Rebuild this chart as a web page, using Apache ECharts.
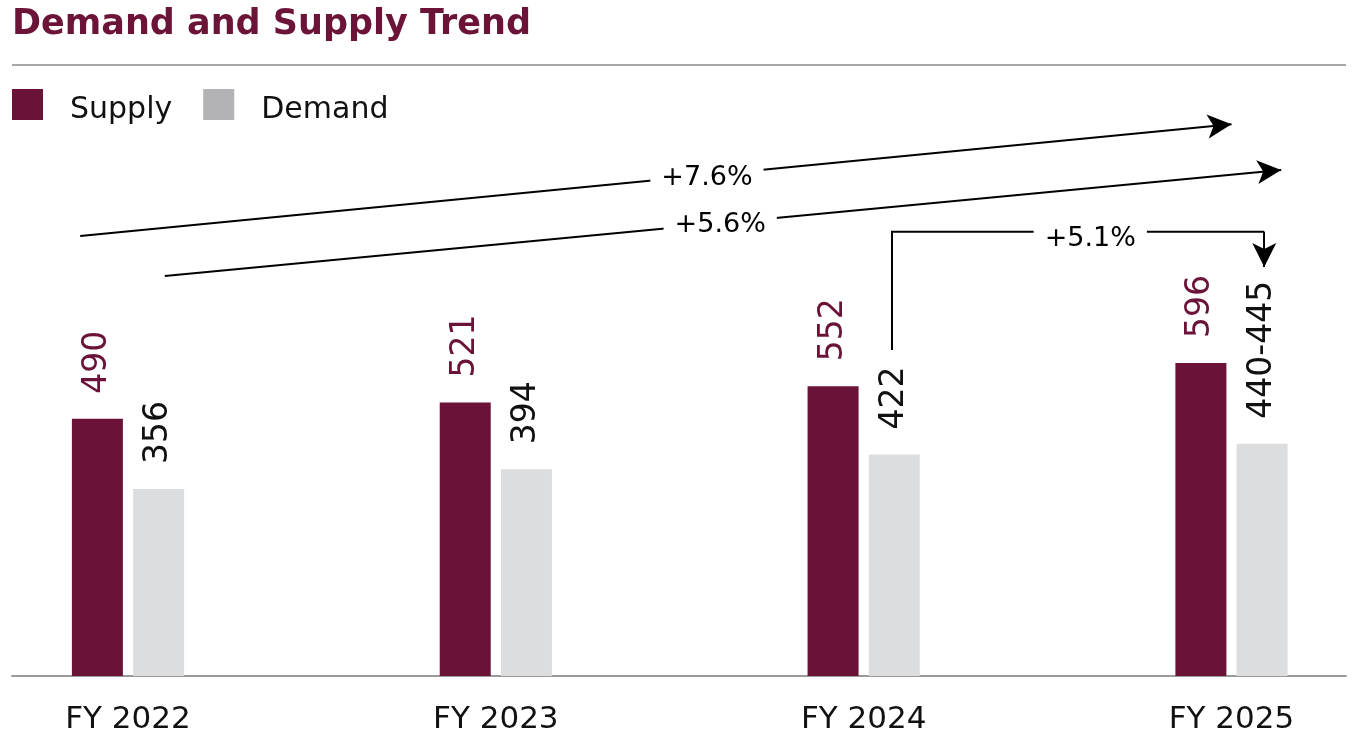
<!DOCTYPE html>
<html>
<head>
<meta charset="utf-8">
<script src="https://cdn.jsdelivr.net/npm/echarts@6/dist/echarts.min.js"></script>
<style>
html,body{margin:0;padding:0;background:#fff;}
#chart{width:1356px;height:736px;}
</style>
</head>
<body>
<div id="chart"></div>
<script>
// ---- data ----
const categories = ['FY 2022', 'FY 2023', 'FY 2024', 'FY 2025'];
const supply = [490, 521, 552, 596];
const demand = [356, 394, 422, 442.5];
const supplyLabels = ['490', '521', '552', '596'];
const demandLabels = ['356', '394', '422', '440-445'];
const growthLabels = ['+7.6%', '+5.6%', '+5.1%'];
// annotation paths in axis coordinates: [category position, value]
const arrowSupply = [[-0.13, 838], [3.0, 1051]];
const arrowDemand = [[0.10, 762], [3.135, 964]];
const elbowPath = [[2.077, 621], [2.077, 846], [3.089, 846]];
const elbowArrow = [[3.089, 846], [3.089, 779]];
const growthLabelPos = [[1.574, 949], [1.610, 860], [2.616, 833]];

const MAROON = '#6a1237';
const BAR_GREY = '#dcdddf';
const LEGEND_GREY = '#b3b3b5';
const FONT = 'DejaVu Sans';

// layout
const W = 1356;
const catLeft = 128, catRight = 124.5;   // category grid (ticks at bar-pair centres)
const fullLeft = 12, fullRight = 10;     // full-width grid (baseline + annotations)
const band = (W - catLeft - catRight) / (categories.length - 1);
const fullMin = -(catLeft - fullLeft) / band;
const fullMax = (categories.length - 1) + (catRight - fullRight) / band;

const chart = echarts.init(document.getElementById('chart'));
const option = {
  animation: false,
  backgroundColor: '#fff',
  title: {
    text: 'Demand and Supply Trend',
    left: 12, top: 7, padding: 0,
    textStyle: { fontFamily: FONT, fontSize: 35, fontWeight: 'bold', color: '#6b1438' }
  },
  legend: {
    left: 12, top: 89, padding: 0,
    icon: 'rect', itemWidth: 31, itemHeight: 31, itemGap: 31,
    selectedMode: false,
    formatter: name => '{t|' + name + '}',
    textStyle: {
      fontFamily: FONT, fontSize: 30, color: '#111',
      rich: { t: { fontFamily: FONT, fontSize: 30, color: '#111', padding: [12, 0, 0, 22] } }
    },
    data: [
      { name: 'Supply', itemStyle: { color: MAROON } },
      { name: 'Demand', itemStyle: { color: LEGEND_GREY } }
    ]
  },
  graphic: [{
    type: 'line',
    shape: { x1: 12, y1: 65, x2: 1346, y2: 65 },
    style: { stroke: '#8a8a8a', lineWidth: 1.5 }
  }],
  grid: [
    { left: catLeft, right: catRight, top: 46, bottom: 60 },
    { left: fullLeft, right: fullRight, top: 46, bottom: 60 }
  ],
  xAxis: [
    {
      type: 'category', gridIndex: 0, data: categories, boundaryGap: false,
      axisLine: { show: false }, axisTick: { show: false },
      axisLabel: { fontFamily: FONT, fontSize: 31, color: '#111', margin: 28 }
    },
    {
      type: 'value', gridIndex: 1, min: fullMin, max: fullMax,
      axisLine: { show: true, onZero: false, lineStyle: { color: '#9a9a9a', width: 2 } },
      axisTick: { show: false }, axisLabel: { show: false }, splitLine: { show: false }
    }
  ],
  yAxis: [
    { type: 'value', gridIndex: 0, min: 0, max: 1200, show: false },
    { type: 'value', gridIndex: 1, min: 0, max: 1200, show: false }
  ],
  series: [
    {
      name: 'Supply', type: 'bar', xAxisIndex: 0, yAxisIndex: 0,
      data: supply, barWidth: 51, barGap: '20%',
      itemStyle: { color: MAROON },
      label: {
        show: true, position: 'top', rotate: 90, align: 'left', verticalAlign: 'middle',
        distance: 25, fontFamily: FONT, fontSize: 33, color: MAROON,
        formatter: p => supplyLabels[p.dataIndex]
      }
    },
    {
      name: 'Demand', type: 'bar', xAxisIndex: 0, yAxisIndex: 0,
      data: demand, barWidth: 51, barGap: '20%',
      itemStyle: { color: BAR_GREY },
      label: {
        show: true, position: 'top', rotate: 90, align: 'left', verticalAlign: 'middle',
        distance: 25, fontFamily: FONT, fontSize: 33, color: '#111',
        formatter: p => demandLabels[p.dataIndex]
      }
    },
    {
      name: 'elbow', type: 'line', xAxisIndex: 1, yAxisIndex: 1, z: 3,
      data: elbowPath, symbol: 'none', silent: true, clip: false,
      lineStyle: { color: '#000', width: 2, join: 'miter' },
      markLine: {
        silent: true, animation: false,
        symbol: ['none', 'arrow'], symbolSize: [18, 24],
        lineStyle: { color: '#000', width: 2, type: 'solid' },
        label: { show: false },
        data: [
          [{ coord: arrowSupply[0] }, { coord: arrowSupply[1] }],
          [{ coord: arrowDemand[0] }, { coord: arrowDemand[1] }],
          [{ coord: elbowArrow[0] }, { coord: elbowArrow[1] }]
        ]
      }
    },
    {
      name: 'growth', type: 'scatter', xAxisIndex: 1, yAxisIndex: 1, z: 10,
      silent: true, symbol: 'rect', symbolSize: 1,
      itemStyle: { color: '#fff', opacity: 1 },
      data: growthLabelPos.map((p, i) => ({ value: p, name: growthLabels[i] })),
      label: {
        show: true, position: 'inside', formatter: p => p.name,
        fontFamily: FONT, fontSize: 27, color: '#000', opacity: 1,
        textBorderWidth: 0, textBorderColor: 'transparent',
        backgroundColor: '#fff', padding: [5, 11, 5, 11]
      }
    }
  ]
};
chart.setOption(option);
</script>
</body>
</html>
